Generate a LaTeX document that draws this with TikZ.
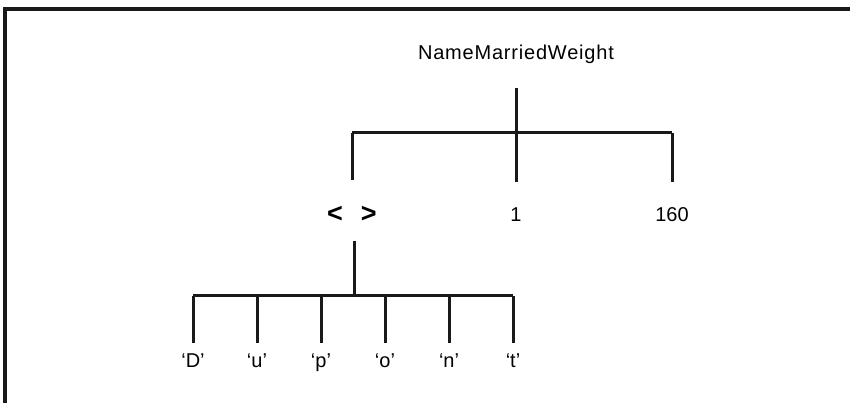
\documentclass[tikz,border=0pt]{standalone}
\usepackage{fontspec}
\setmainfont{Liberation Sans}
\usetikzlibrary{positioning}
\tikzset{
  field/.style={font=\fontsize{20}{24}\selectfont, inner sep=0pt, text height=14pt, text depth=0pt},
  recordname/.style={field, font=\fontsize{20}{24}\selectfont\addfontfeature{LetterSpace=4}},
  brackets/.style={field, font=\fontsize{27}{30}\selectfont\bfseries},
  branch/.style={line width=3pt, draw=black!90},
  frame/.style={line width=3.2pt, draw=black!90},
}

\begin{document}
\begin{tikzpicture}[x=1pt, y=-1pt]
  \useasboundingbox (0,0) rectangle (854,403);
  \draw[frame] (5,403) -- (5,9) -- (850,9);

  \node[recordname] (record) at (516,53) {NameMarriedWeight};
  \node[brackets] (name) at (352,216) {<\hspace{18pt}>};
  \node[field] (married) at (516,215) {1};
  \node[field] (weight) at (672,215) {160};
  \coordinate (fork) at (516,133);
  \coordinate (subfork) at (354,296);

  \foreach \ch [count=\i] in {D,u,p,o,n,t}
    \node[field] (char\i) at ({193+64*(\i-1)},360) {‘\ch’};

  % record level
  \draw[branch, shorten <=28pt, shorten >=26pt] (record) -- (married);
  \draw[branch] (name |- fork) -- (weight |- fork);
  \draw[branch, shorten >=29pt] (name |- fork) -- (name);
  \draw[branch, shorten >=26pt] (weight |- fork) -- (weight);

  % string level
  \draw[branch, shorten <=25pt] (subfork |- name) -- (subfork);
  \draw[branch] (char1 |- subfork) -- (char6 |- subfork);
  \foreach \i in {1,...,6}
    \draw[branch, shorten >=10pt] (char\i |- subfork) -- (char\i);
\end{tikzpicture}
\end{document}
